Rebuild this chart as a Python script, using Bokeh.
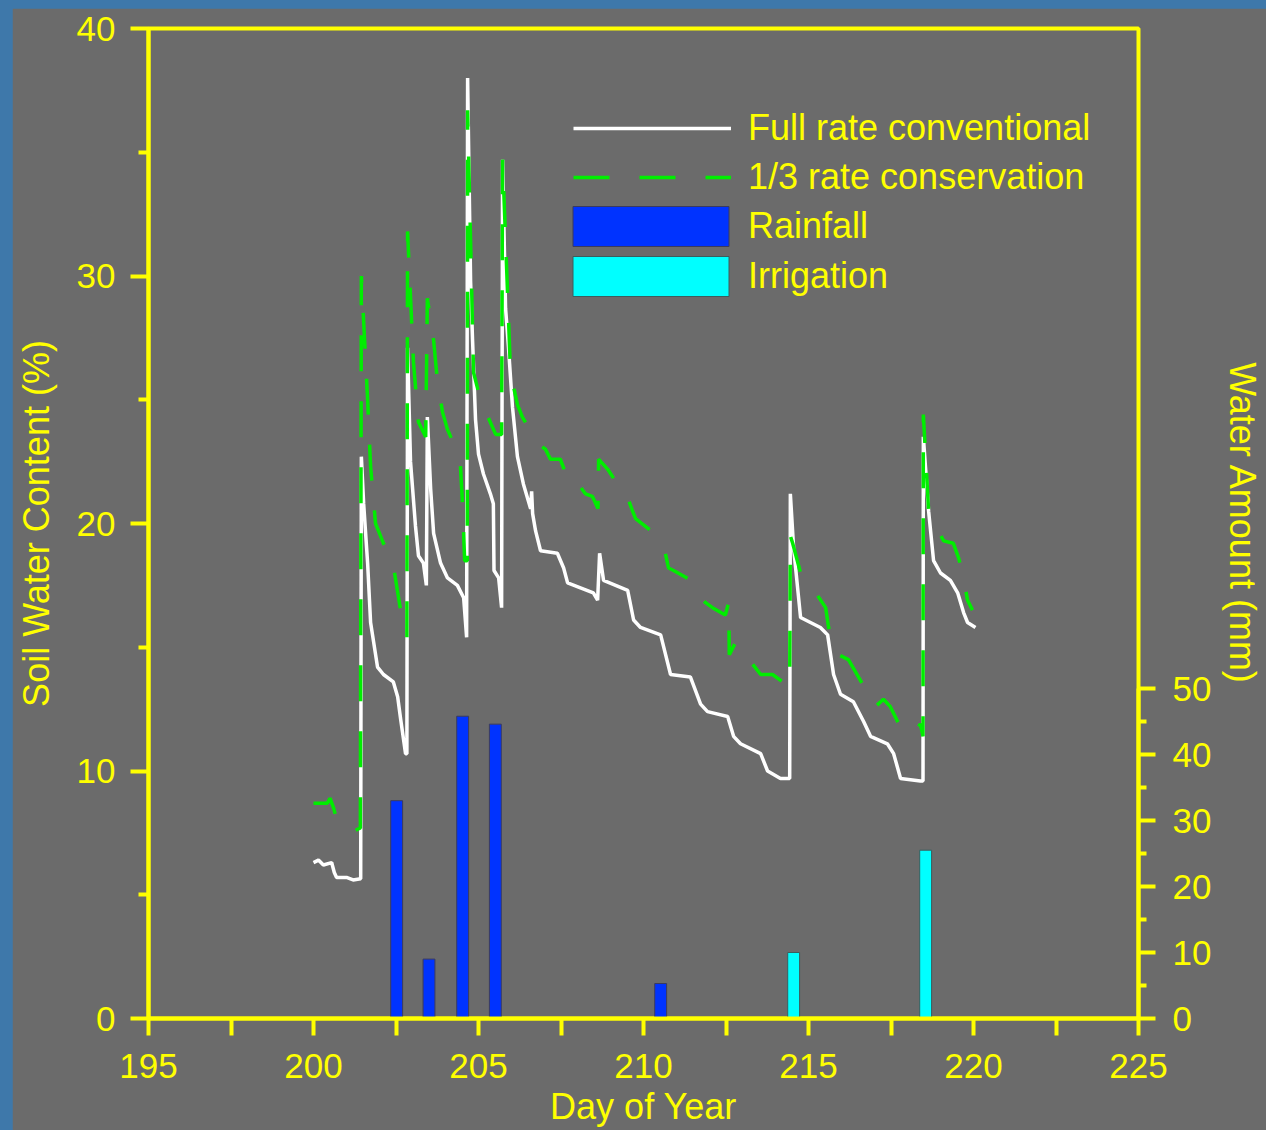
from bokeh.plotting import figure
from bokeh.models import Range1d, LinearAxis, FixedTicker, Legend, LegendItem
from bokeh.embed import file_html
from bokeh.resources import INLINE

# ---------------- data ----------------
# Full rate conventional soil water content (%) vs day of year
day_full = [200.00, 200.15, 200.30, 200.55, 200.63, 200.70, 201.00, 201.20, 201.43,
            201.45, 201.52, 201.64, 201.73, 201.94, 202.12, 202.42, 202.55, 202.64, 202.79, 202.83,
            202.85, 202.94, 203.09, 203.18, 203.33, 203.42,
            203.45, 203.55, 203.64, 203.85, 204.06, 204.36, 204.55, 204.64,
            204.67, 204.76, 204.82, 204.91, 205.00, 205.15, 205.36, 205.45, 205.47, 205.61, 205.70,
            205.73, 205.82, 205.91, 206.03, 206.18, 206.36, 206.58, 206.61, 206.64, 206.73, 206.88,
            207.39, 207.58, 207.70, 208.09, 208.48, 208.61, 208.67, 208.79, 209.52, 209.70, 209.91,
            210.52, 210.82, 211.42, 211.73, 211.94, 212.55, 212.73, 212.94, 213.55, 213.76, 214.15, 214.43,
            214.45, 214.55, 214.67, 214.76, 215.06, 215.36, 215.58, 215.76, 215.97, 216.36, 216.67,
            216.88, 217.39, 217.58, 217.79, 218.39, 218.47,
            218.48, 218.64, 218.79, 219.00, 219.30, 219.52, 219.70, 219.82, 220.06]
swc_full = [6.3, 6.4, 6.2, 6.3, 5.9, 5.7, 5.7, 5.6, 5.65,
            22.7, 20.8, 18.4, 16.0, 14.2, 13.9, 13.6, 13.0, 12.1, 10.7, 10.7,
            27.1, 22.5, 19.9, 18.7, 18.4, 17.5,
            24.3, 21.4, 19.6, 18.4, 17.8, 17.5, 17.0, 15.4,
            38.0, 29.8, 27.4, 24.2, 22.8, 22.0, 21.2, 20.8, 18.1, 17.8, 16.6,
            34.7, 28.7, 27.1, 24.7, 22.7, 21.6, 20.6, 21.3, 20.4, 19.7, 18.9,
            18.8, 18.2, 17.6, 17.4, 17.2, 16.9, 18.8, 17.7, 17.3, 16.1, 15.8,
            15.5, 13.9, 13.8, 12.7, 12.4, 12.2, 11.4, 11.1, 10.7, 10.0, 9.7, 9.7,
            21.2, 19.0, 17.4, 16.2, 16.0, 15.8, 15.5, 13.9, 13.1, 12.8, 12.0,
            11.4, 11.1, 10.7, 9.7, 9.6, 9.6,
            23.5, 20.5, 18.5, 18.0, 17.7, 17.2, 16.4, 16.0, 15.8]

# 1/3 rate conservation soil water content (%)
day_cons = [200.00, 200.42, 200.50, 200.61, 200.73, 201.03, 201.27, 201.42,
            201.45, 201.64, 201.73, 201.88, 202.12, 202.42, 202.70, 202.83,
            202.85, 203.03, 203.18, 203.40,
            203.45, 203.64, 203.76, 203.91, 204.06, 204.39, 204.45, 204.52, 204.58, 204.66,
            204.67, 204.85, 205.06, 205.52, 205.70,
            205.73, 205.97, 206.18, 206.33, 206.82, 207.03, 207.18, 207.48, 207.70, 207.85,
            208.24, 208.45, 208.62, 208.64, 208.91, 209.06, 209.24, 209.45, 209.67, 209.76,
            210.42, 210.61, 210.76, 210.91, 211.58, 211.73, 211.88, 212.09, 212.48, 212.58,
            212.60, 212.79, 213.55, 213.91, 214.43,
            214.45, 214.52, 214.76, 215.12, 215.52, 215.61, 215.76, 215.91, 216.21, 216.64,
            216.73, 217.03, 217.27, 217.48, 217.70, 217.88, 218.18, 218.39, 218.47,
            218.48, 218.64, 218.91, 219.09, 219.39, 219.55, 219.67, 219.82, 219.97]
swc_cons = [8.7, 8.7, 8.9, 8.5, 7.9, 7.6, 7.6, 7.7,
            30.0, 25.0, 22.3, 20.0, 19.2, 18.3, 16.0, 15.4,
            31.8, 26.5, 24.1, 23.5,
            29.1, 27.4, 25.7, 24.5, 23.8, 22.8, 22.4, 20.7, 18.5, 18.5,
            36.7, 26.1, 25.0, 23.6, 23.6,
            34.7, 26.1, 24.8, 24.3, 23.2, 23.0, 22.6, 22.6, 21.8, 21.9,
            21.2, 21.1, 20.6, 22.6, 22.2, 21.9, 21.4, 21.3, 20.5, 20.2,
            19.5, 19.1, 18.2, 18.1, 17.6, 17.0, 16.8, 16.6, 16.3, 16.8,
            14.7, 15.2, 13.9, 13.9, 13.4,
            19.5, 19.2, 18.0, 17.4, 16.6, 15.8, 14.9, 14.7, 14.5, 13.5,
            13.1, 12.6, 12.9, 12.6, 12.0, 11.6, 11.5, 11.9, 11.4,
            24.4, 20.5, 19.8, 19.3, 19.2, 18.6, 18.0, 16.9, 16.5]

# Water amounts (mm), right axis
rain_day = [202.52, 203.50, 204.52, 205.51, 210.52]
rain_mm = [33.0, 9.0, 45.8, 44.6, 5.3]
irr_day = [214.55, 218.55]
irr_mm = [10.0, 25.5]

# Axis ticks
x_ticks = [195, 200, 205, 210, 215, 220, 225]
x_minor = [197.5, 202.5, 207.5, 212.5, 217.5, 222.5]
y_ticks = [0, 10, 20, 30, 40]
y_minor = [5, 15, 25, 35]
w_ticks = [0, 10, 20, 30, 40, 50]
w_minor = [5, 15, 25, 35, 45]

# ---------------- styling ----------------
GRAY = "#6b6b6b"
YELLOW = "#ffff00"
PAGE_BLUE = "#3e78aa"
FONT = "Liberation Sans"

p = figure(width=1254, height=1122,
           x_range=Range1d(195, 225), y_range=Range1d(0, 40),
           output_backend="svg", toolbar_location=None,
           min_border_left=136, min_border_right=128,
           min_border_top=20, min_border_bottom=112,
           background_fill_color=GRAY, border_fill_color=GRAY,
           outline_line_color=YELLOW, outline_line_width=4)
p.extra_y_ranges = {"water": Range1d(0, 150)}
p.grid.visible = False


def style_axis(ax, tick_out, minor_out, standoff, label_standoff):
    ax.axis_line_color = YELLOW
    ax.axis_line_width = 4
    ax.major_tick_line_color = YELLOW
    ax.major_tick_line_width = 4
    ax.major_tick_in = 0
    ax.major_tick_out = tick_out
    ax.minor_tick_line_color = YELLOW
    ax.minor_tick_line_width = 4
    ax.minor_tick_in = 0
    ax.minor_tick_out = minor_out
    ax.major_label_text_color = YELLOW
    ax.major_label_text_font = FONT
    ax.major_label_text_font_size = "35px"
    ax.major_label_standoff = standoff
    ax.axis_label_text_color = YELLOW
    ax.axis_label_text_font = FONT
    ax.axis_label_text_font_size = "36px"
    ax.axis_label_text_font_style = "normal"
    ax.axis_label_standoff = label_standoff


xa = p.xaxis[0]
xa.ticker = FixedTicker(ticks=x_ticks, minor_ticks=x_minor)
xa.axis_label = "Day of Year"
style_axis(xa, 17, 17, 18, 5)

ya = p.yaxis[0]
ya.ticker = FixedTicker(ticks=y_ticks, minor_ticks=y_minor)
ya.axis_label = "Soil Water Content (%)"
style_axis(ya, 18, 10, 15, 17)

ra = LinearAxis(y_range_name="water", axis_label="Water Amount (mm)",
                ticker=FixedTicker(ticks=w_ticks, minor_ticks=w_minor),
                bounds=(0, 50))
style_axis(ra, 17, 8, 17, 8)
p.add_layout(ra, "right")

rain_r = p.vbar(x=rain_day, top=rain_mm, bottom=0, width=0.36, y_range_name="water",
                fill_color="#0033ff", line_color="#3b3b5e", line_width=1)
irr_r = p.vbar(x=irr_day, top=irr_mm, bottom=0, width=0.36, y_range_name="water",
               fill_color="#00ffff", line_color="#3b5e5e", line_width=1)
full_r = p.line(day_full, swc_full, line_color="white", line_width=3.5)
cons_r = p.line(day_cons, swc_cons, line_color="#00ee00", line_width=3.5, line_dash="36 30")

common = dict(padding=0, margin=0, background_fill_alpha=0, border_line_alpha=0,
              label_text_color=YELLOW, label_text_font=FONT, label_text_font_size="36px")
leg1 = Legend(items=[LegendItem(label="Full rate conventional", renderers=[full_r]),
                     LegendItem(label="1/3 rate conservation", renderers=[cons_r])],
              location=(425, 820), glyph_width=158, glyph_height=42, spacing=7,
              label_standoff=17, **common)
leg2 = Legend(items=[LegendItem(label="Rainfall", renderers=[rain_r]),
                     LegendItem(label="Irrigation", renderers=[irr_r])],
              location=(405, 717), glyph_width=195, glyph_height=50, spacing=0,
              label_standoff=0, **common)
p.add_layout(leg1)
p.add_layout(leg2)

html = file_html(p, INLINE, title="Soil Water Content")
page_css = ("<style>html, body { background-color: %s; } "
            "body { padding: 8px 0 0 12px !important; overflow: hidden; }</style>" % PAGE_BLUE)
html = html.replace("</head>", page_css + "\n</head>", 1)
open("out.html", "w").write(html)
